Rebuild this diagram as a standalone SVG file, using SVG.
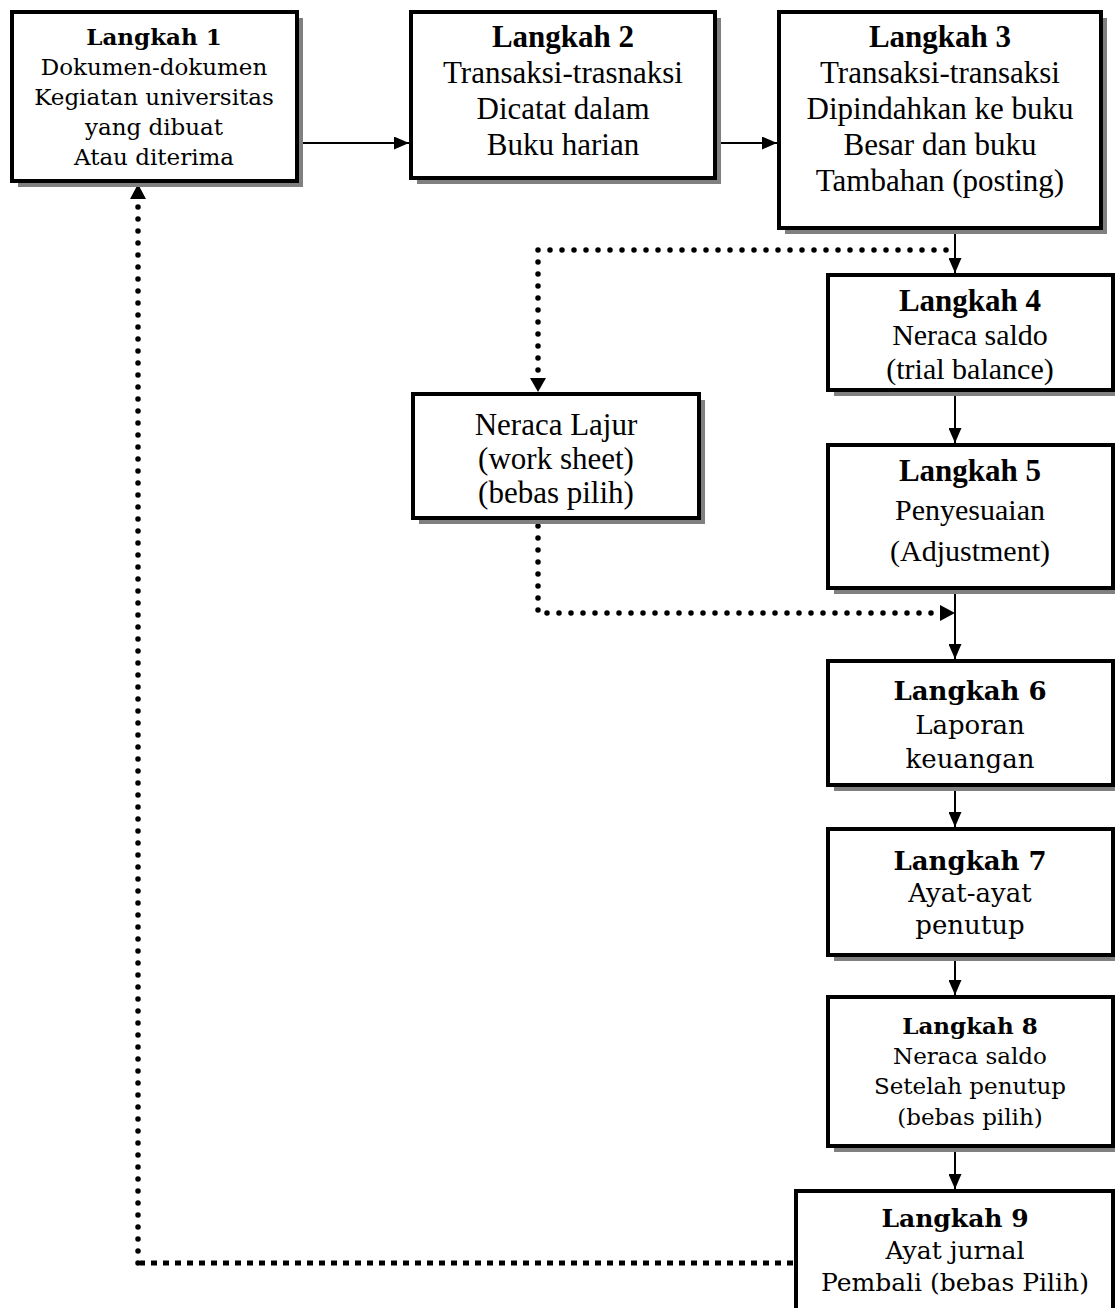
<svg xmlns="http://www.w3.org/2000/svg" width="1115" height="1308" viewBox="0 0 1115 1308">
<style>
.shadow{fill:#808080;stroke:none}
.box{fill:#fff;stroke:#000;stroke-width:4}
.t{text-anchor:middle;fill:#000}
.a{font-family:"DejaVu Serif","Liberation Serif",serif}
.b{font-family:"Liberation Serif","Times New Roman",serif}
.bold{font-weight:bold}
.solid{fill:none;stroke:#000;stroke-width:2}
.dot{fill:none;stroke:#000;stroke-width:5.5;stroke-dasharray:0 12;stroke-linecap:round}
.sq{fill:none;stroke:#000;stroke-width:5;stroke-dasharray:6 6}
</style>
<defs>
<marker id="arr" markerUnits="userSpaceOnUse" markerWidth="15" markerHeight="13" refX="15" refY="6.5" orient="auto" viewBox="0 0 15 13">
<path d="M0,0 L15,6.5 L0,13 z" fill="#000"/>
</marker>
</defs>
<g id="connectors">
<path class="solid" d="M299,143 H409" marker-end="url(#arr)"/>
<path class="solid" d="M717,143 H777" marker-end="url(#arr)"/>
<path class="solid" d="M955,230 V273" marker-end="url(#arr)"/>
<path class="solid" d="M955,392 V443" marker-end="url(#arr)"/>
<path class="solid" d="M955,590 V659" marker-end="url(#arr)"/>
<path class="solid" d="M955,787 V827" marker-end="url(#arr)"/>
<path class="solid" d="M955,957 V995" marker-end="url(#arr)"/>
<path class="solid" d="M955,1148 V1189" marker-end="url(#arr)"/>
<path class="dot" d="M946,250 H538 V380"/>
<path d="M530,378 L546,378 L538,392 z" fill="#000"/>
<path class="dot" d="M538,526 V613 H940"/>
<path d="M940,605 L955,613 L940,621 z" fill="#000"/>
<path class="sq" d="M793,1263 H140"/>
<path class="dot" d="M138,1263 V200"/>
<path d="M130,199 L138,184 L146,199 z" fill="#000"/>
</g>
<g id="n1">
<rect class="shadow" x="18" y="18" width="285" height="169"/>
<rect class="box" x="12" y="12" width="285" height="169"/>
<text class="t a bold" x="154" y="45" font-size="23">Langkah 1</text>
<text class="t a" x="154" y="75" font-size="23">Dokumen-dokumen</text>
<text class="t a" x="154" y="105" font-size="23">Kegiatan universitas</text>
<text class="t a" x="154" y="135" font-size="23">yang dibuat</text>
<text class="t a" x="154" y="165" font-size="23">Atau diterima</text>
</g>
<g id="n2">
<rect class="shadow" x="417" y="18" width="304" height="166"/>
<rect class="box" x="411" y="12" width="304" height="166"/>
<text class="t b bold" x="563" y="47" font-size="31">Langkah 2</text>
<text class="t b" x="563" y="83" font-size="31">Transaksi-trasnaksi</text>
<text class="t b" x="563" y="119" font-size="31">Dicatat dalam</text>
<text class="t b" x="563" y="155" font-size="31">Buku harian</text>
</g>
<g id="n3">
<rect class="shadow" x="785" y="18" width="322" height="216"/>
<rect class="box" x="779" y="12" width="322" height="216"/>
<text class="t b bold" x="940" y="47" font-size="31">Langkah 3</text>
<text class="t b" x="940" y="83" font-size="31">Transaksi-transaksi</text>
<text class="t b" x="940" y="119" font-size="31">Dipindahkan ke buku</text>
<text class="t b" x="940" y="155" font-size="31">Besar dan buku</text>
<text class="t b" x="940" y="191" font-size="31">Tambahan (posting)</text>
</g>
<g id="n4">
<rect class="shadow" x="834" y="281" width="285" height="115"/>
<rect class="box" x="828" y="275" width="285" height="115"/>
<text class="t b bold" x="970" y="311" font-size="31">Langkah 4</text>
<text class="t b" x="970" y="345" font-size="30">Neraca saldo</text>
<text class="t b" x="970" y="379" font-size="30">(trial balance)</text>
</g>
<g id="n5">
<rect class="shadow" x="834" y="451" width="285" height="143"/>
<rect class="box" x="828" y="445" width="285" height="143"/>
<text class="t b bold" x="970" y="481" font-size="31">Langkah 5</text>
<text class="t b" x="970" y="520" font-size="30">Penyesuaian</text>
<text class="t b" x="970" y="561" font-size="30">(Adjustment)</text>
</g>
<g id="lajur">
<rect class="shadow" x="419" y="400" width="286" height="124"/>
<rect class="box" x="413" y="394" width="286" height="124"/>
<text class="t b" x="556" y="435" font-size="31">Neraca Lajur</text>
<text class="t b" x="556" y="469" font-size="31">(work sheet)</text>
<text class="t b" x="556" y="503" font-size="31">(bebas pilih)</text>
</g>
<g id="n6">
<rect class="shadow" x="834" y="667" width="285" height="124"/>
<rect class="box" x="828" y="661" width="285" height="124"/>
<text class="t a bold" x="970" y="700" font-size="26">Langkah 6</text>
<text class="t a" x="970" y="734" font-size="26">Laporan</text>
<text class="t a" x="970" y="768" font-size="26">keuangan</text>
</g>
<g id="n7">
<rect class="shadow" x="834" y="835" width="285" height="126"/>
<rect class="box" x="828" y="829" width="285" height="126"/>
<text class="t a bold" x="970" y="870" font-size="26">Langkah 7</text>
<text class="t a" x="970" y="902" font-size="26">Ayat-ayat</text>
<text class="t a" x="970" y="934" font-size="26">penutup</text>
</g>
<g id="n8">
<rect class="shadow" x="834" y="1003" width="285" height="149"/>
<rect class="box" x="828" y="997" width="285" height="149"/>
<text class="t a bold" x="970" y="1034" font-size="23">Langkah 8</text>
<text class="t a" x="970" y="1064" font-size="23">Neraca saldo</text>
<text class="t a" x="970" y="1094" font-size="23">Setelah penutup</text>
<text class="t a" x="970" y="1125" font-size="23">(bebas pilih)</text>
</g>
<g id="n9">
<rect class="shadow" x="802" y="1197" width="317" height="140"/>
<rect class="box" x="796" y="1191" width="317" height="140"/>
<text class="t a bold" x="955" y="1227" font-size="25">Langkah 9</text>
<text class="t a" x="955" y="1259" font-size="25">Ayat jurnal</text>
<text class="t a" x="955" y="1291" font-size="25">Pembali (bebas Pilih)</text>
</g>
</svg>
